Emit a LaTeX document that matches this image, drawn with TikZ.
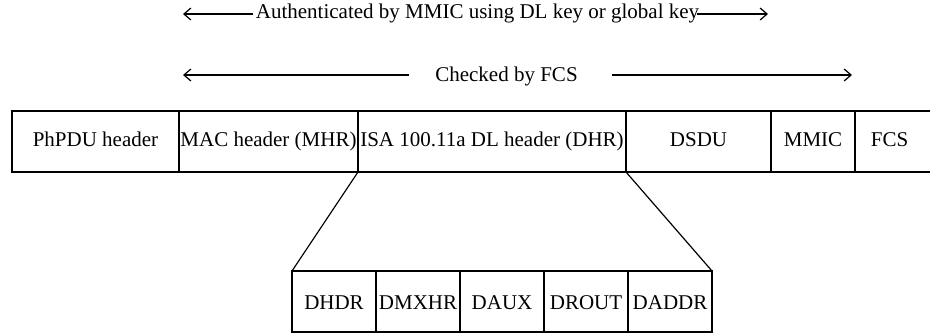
\documentclass[tikz,border=0pt]{standalone}
\usepackage{fontspec}
\setmainfont{Liberation Serif}
\usetikzlibrary{arrows.meta}
\begin{document}
\begin{tikzpicture}[x=0.5pt,y=-0.5pt,
  cell/.style={draw, line width=0.8pt, inner sep=0pt, outer sep=0pt,
    minimum height=30.5pt, text height=6.5pt, text depth=1.3pt,
    font=\fontsize{10.5}{12}\selectfont},
  subcell/.style={cell, minimum width=42pt, text height=9pt},
  txt/.style={inner sep=0pt, text height=6.5pt, text depth=1.3pt,
    font=\fontsize{10.5}{12}\selectfont},
  span/.style={line width=0.7pt},
  tip/.style={-{Straight Barb[length=3.5pt,width=6pt,line width=0.6pt]}},
  fan/.style={line width=0.6pt}]
\useasboundingbox (0,0) rectangle (930,334);
\clip (0,0) rectangle (930,334);

% frame fields
\node[cell, minimum width=83.5pt] (phpdu) at (95.5,141.5) {PhPDU header};
\node[cell, minimum width=89.5pt] (mhr)   at (268.5,141.5) {MAC header (MHR)};
\node[cell, minimum width=134pt]  (dhr)   at (492,141.5) {ISA 100.11a DL header (DHR)};
\node[cell, minimum width=72.5pt] (dsdu)  at (698.5,141.5) {DSDU};
\node[cell, minimum width=42pt]   (mmic)  at (813,141.5) {MMIC};
\node[cell, minimum width=40.5pt] (fcs)   at (895.5,141.5) {};
\node[txt] (fcslabel) at (889.5,141.5) {FCS};

% DL header subfields
\node[subcell] (dhdr)  at (334,301.5) {DHDR};
\node[subcell] (dmxhr) at (418,301.5) {DMXHR};
\node[subcell] (daux)  at (502,301.5) {DAUX};
\node[subcell] (drout) at (586,301.5) {DROUT};
\node[subcell] (daddr) at (670,301.5) {DADDR};

% expansion lines
\draw[fan] (dhr.south west) -- (dhdr.north west);
\draw[fan] (dhr.south east) -- (daddr.north east);

% coverage spans
\node[txt] (auth) at (477.5,13) {Authenticated by MMIC using DL key or global key};
\coordinate (a1l) at (183,14);
\coordinate (a1a) at (253,14);
\coordinate (a1b) at (697,14);
\coordinate (a1r) at (768,14);
\draw[span,tip] (a1a) -- (a1l);
\draw[span,tip] (a1b) -- (a1r);

\node[txt] (chk) at (506.5,76.5) {Checked by FCS};
\coordinate (a2l) at (183,75);
\coordinate (a2a) at (409,75);
\coordinate (a2b) at (612,75);
\coordinate (a2r) at (852,75);
\draw[span,tip] (a2a) -- (a2l);
\draw[span,tip] (a2b) -- (a2r);
\end{tikzpicture}
\end{document}
